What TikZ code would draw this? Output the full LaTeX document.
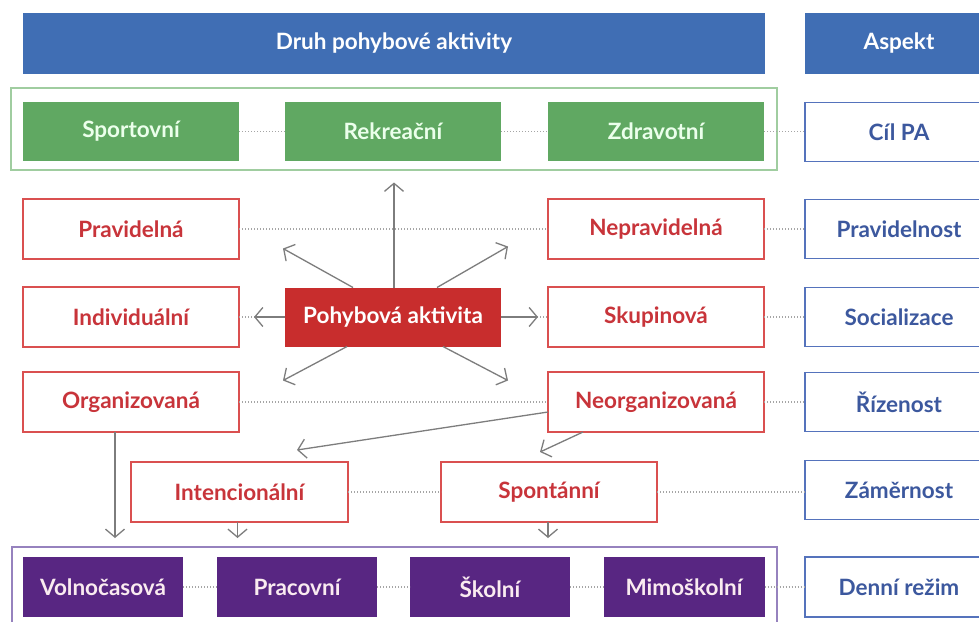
\documentclass[tikz,border=0pt]{standalone}
\usepackage{fontspec}
\setmainfont{Lato}
\usetikzlibrary{arrows.meta,calc}
\definecolor{hdrblue}{RGB}{64,110,180}
\definecolor{grn}{RGB}{96,168,98}
\definecolor{grnframe}{RGB}{160,205,160}
\definecolor{redfill}{RGB}{200,45,45}
\definecolor{redline}{RGB}{218,80,80}
\definecolor{redtext}{RGB}{200,52,58}
\definecolor{purp}{RGB}{88,38,130}
\definecolor{purpframe}{RGB}{150,130,190}
\definecolor{blueline}{RGB}{85,115,188}
\definecolor{bluetext}{RGB}{60,88,158}
\definecolor{arrgray}{RGB}{125,125,125}
\definecolor{dotgray}{RGB}{165,165,165}
\tikzset{
  base/.style={inner sep=0pt, outer sep=0pt, font=\fontsize{22.5}{26}\selectfont\bfseries, minimum height=59pt, minimum width=216pt},
  hdrbox/.style={base, fill=hdrblue, text=white, minimum height=61pt},
  greenbox/.style={base, fill=grn, text=white!92!green},
  redbox/.style={base, draw=redline, line width=1.4pt, fill=white, text=redtext, minimum height=60pt},
  centerbox/.style={base, fill=redfill, text=white},
  purpbox/.style={base, fill=purp, text=white!92!purple, minimum width=160pt, minimum height=60pt},
  aspbox/.style={base, draw=blueline, line width=1.4pt, fill=white, text=bluetext, minimum width=188pt, minimum height=59pt},
  dotline/.style={dotgray, line width=1.3pt, dash pattern=on 1.3pt off 1.7pt},
  arr/.style={arrgray, line width=1.3pt, -{Straight Barb[length=8pt,width=19pt,line width=1.3pt]}},
}
\begin{document}
\begin{tikzpicture}[x=1pt,y=-1pt]
\clip (0,0) rectangle (979,621);
\fill[white] (0,0) rectangle (979,621);
% headers
\node[hdrbox, minimum width=742pt] (hdr) at (394,43.5) {Druh pohybové aktivity};
\node[hdrbox, minimum width=188pt] (asp) at (899,43.5) {Aspekt};
% green frame and boxes
\node[draw=grnframe, line width=1.3pt, minimum width=766pt, minimum height=82pt, inner sep=0pt] (gf) at (394,129) {};
\node[greenbox] (spo) at (131,131.5) {Sportovní};
\node[greenbox] (rek) at (393,131.5) {Rekreační};
\node[greenbox] (zdr) at (656,131.5) {Zdravotní};
\node[aspbox] (cil) at (899,132) {Cíl PA};
% row 2
\node[redbox] (pra) at (131,229) {Pravidelná};
\node[redbox] (nep) at (656,229) {Nepravidelná};
\node[aspbox] (prn) at (899,229) {Pravidelnost};
% row 3
\node[redbox] (ind) at (131,317) {Individuální};
\node[centerbox] (pa) at (393,317) {Pohybová aktivita};
\node[redbox] (sku) at (656,317) {Skupinová};
\node[aspbox] (soc) at (899,317) {Socializace};
% row 4
\node[redbox] (org) at (131,402) {Organizovaná};
\node[redbox] (neo) at (656,402) {Neorganizovaná};
\node[aspbox] (riz) at (899,402) {Řízenost};
% row 5
\node[redbox, minimum width=217pt] (int) at (239.5,492) {Intencionální};
\node[redbox] (spn) at (549,492) {Spontánní};
\node[aspbox] (zam) at (899,490) {Záměrnost};
% bottom frame and boxes
\node[draw=purpframe, line width=1.3pt, minimum width=765pt, minimum height=90pt, inner sep=0pt] (pf) at (394.5,592) {};
\node[purpbox] (vol) at (103,587) {Volnočasová};
\node[purpbox] (prc) at (297,587) {Pracovní};
\node[purpbox] (sko) at (490,587) {Školní};
\node[purpbox, minimum width=161pt] (mim) at (684,587) {Mimoškolní};
\node[aspbox, minimum height=60pt] (den) at (899,587) {Denní režim};
% dotted connectors
\draw[dotline] (spo.east) -- (rek.west);
\draw[dotline] (rek.east) -- (zdr.west);
\draw[dotline] (zdr.east) -- (zdr.east -| cil.west);
\draw[dotline] (pra.east) -- (nep.west);
\draw[dotline] (nep.east) -- (prn.west);
\draw[dotline] (ind.east) -- (pa.west);
\draw[dotline] (pa.east) -- (sku.west);
\draw[dotline] (sku.east) -- (soc.west);
\draw[dotline] (org.east) -- (neo.west);
\draw[dotline] (neo.east) -- (riz.west);
\draw[dotline] (int.east) -- (spn.west);
\draw[dotline] (spn.east) -- (spn.east -| zam.west);
\draw[dotline] (vol.east) -- (prc.west);
\draw[dotline] (prc.east) -- (sko.west);
\draw[dotline] (sko.east) -- (mim.west);
\draw[dotline] (mim.east) -- (den.west);
% arrows from centre
\draw[arr] ($(pa.north)+(1,0)$) -- ++(0,-105);
\draw[arr] ($(pa.north)+(-40,0)$) -- ++(-70,-39);
\draw[arr] ($(pa.north)+(44,0)$) -- ++(71,-41);
\draw[arr] ($(pa.south)+(-46,0)$) -- ++(-64,34);
\draw[arr] ($(pa.south)+(50,0)$) -- ++(65,34);
\draw[arr] (pa.west) -- ++(-31,0);
\draw[arr] (pa.east) -- ++(37,0);
% lower arrows
\draw[arr] ($(org.south)+(-16,0)$) -- ++(0,106);
\draw[arr] ($(neo.west)+(0,10)$) -- ++(-251,38);
\draw[arr] ($(neo.south)+(-73,0)$) -- ++(-43,20);
\draw[arr] ($(int.south)+(-2,0)$) -- ++(0,16);
\draw[arr] ($(spn.south)+(-1,0)$) -- ++(0,16);
\end{tikzpicture}
\end{document}
